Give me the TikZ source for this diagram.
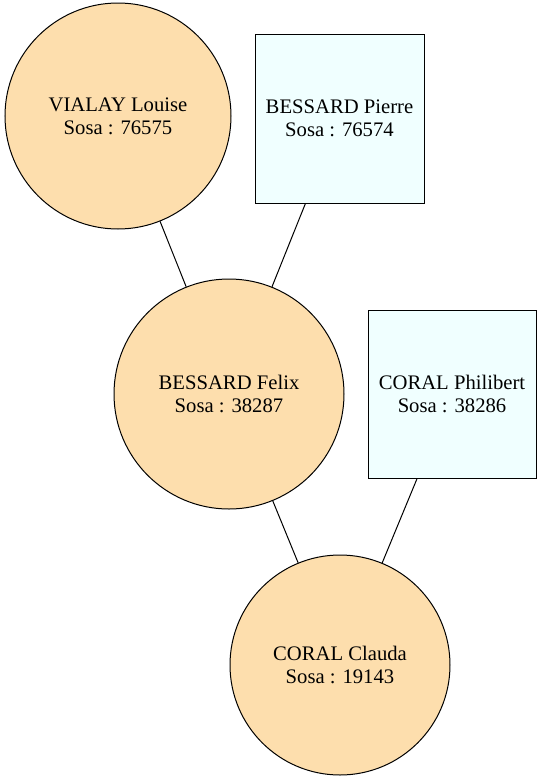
\documentclass[tikz,border=0pt]{standalone}
\usepackage{fontspec}
\setmainfont{Liberation Serif}
\usetikzlibrary{positioning}

\begin{document}
\begin{tikzpicture}[
        x=0.75pt, y=-0.75pt,
        font=\fontsize{15.5pt}{17pt}\selectfont,
        woman/.style={circle, draw=black, fill={rgb,255:red,253;green,222;blue,173}, line width=0.75pt, inner sep=0pt, align=center},
        man/.style={rectangle, draw=black, fill={rgb,255:red,240;green,255;blue,255}, line width=0.75pt, inner sep=0pt, align=center},
        link/.style={line width=0.75pt, draw=black}
    ]
    \useasboundingbox (0,0) rectangle (541,782);

    \node[woman, minimum size=169.5pt] (louise) at (118,116) {VIALAY Louise\\Sosa : 76575};
    \node[man, minimum size=126.75pt] (pierre) at (339.5,118.5) {BESSARD Pierre\\Sosa : 76574};
    \node[woman, minimum size=172.5pt] (felix) at (229,394) {BESSARD Felix\\Sosa : 38287};
    \node[man, minimum size=126pt] (philibert) at (452,394) {CORAL Philibert\\Sosa : 38286};
    \node[woman, minimum size=165pt] (claude) at (340,665) {CORAL Clauda\\Sosa : 19143};

    \draw[link] (louise) -- (felix);
    \draw[link] (pierre) -- (felix);
    \draw[link] (felix) -- (claude);
    \draw[link] (philibert) -- (claude);
    \end{tikzpicture}
\end{document}
